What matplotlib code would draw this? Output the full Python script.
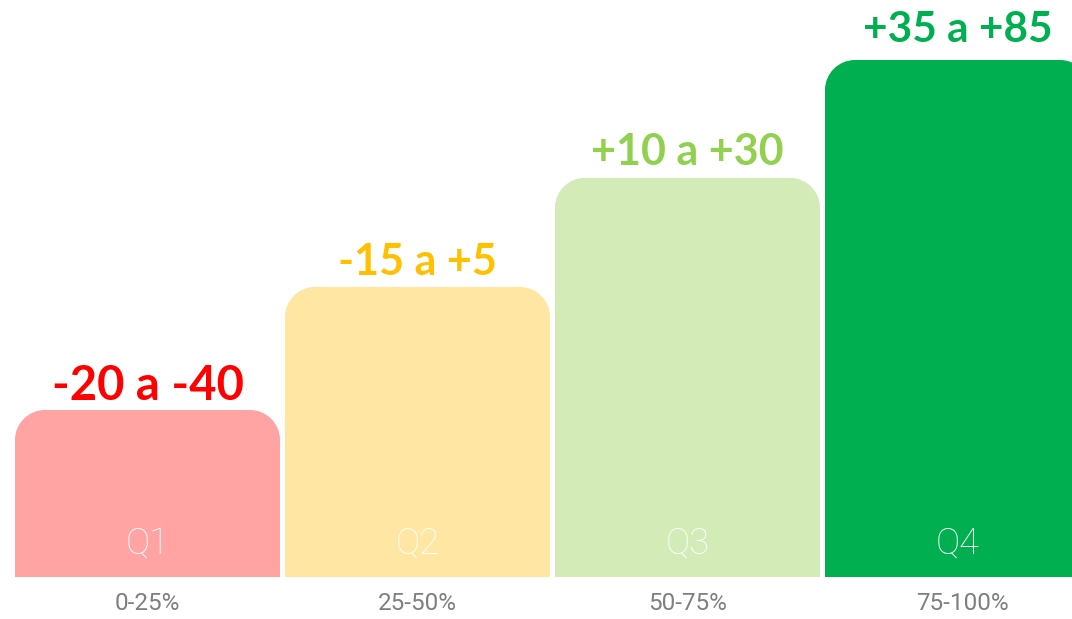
import matplotlib
matplotlib.use("Agg")
import matplotlib.pyplot as plt
from matplotlib.path import Path
from matplotlib.patches import PathPatch

# Data
quartiles = ["Q1", "Q2", "Q3", "Q4"]
ranges = ["0-25%", "25-50%", "50-75%", "75-100%"]
heights = [32.3, 56.1, 77.2, 100.0]
value_labels = ["-20 a -40", "-15 a +5", "+10 a +30", "+35 a +85"]
bar_colors = ["#FFA3A3", "#FFE6A3", "#D3EBB7", "#00B050"]
text_colors = ["#FF0000", "#FFC000", "#92D050", "#00B050"]

W, H, DPI = 1072, 619, 100
fig = plt.figure(figsize=(W / DPI, H / DPI), dpi=DPI)
ax = fig.add_axes([0, 0, 1, 1])

# axis limits chosen so bars land where they sit in the reference
px_x = 270.0   # pixels per x unit
px_y = 5.17    # pixels per y unit
ax.set_xlim(-147.5 / px_x, (W - 147.5) / px_x)
ax.set_ylim(-42 / px_y, (H - 42) / px_y)
ax.axis("off")

width = 265 / px_x
rx = 30 / px_x
ry = 30 / px_y
k = 0.5523

label_sizes = [34, 31, 31, 30.5]
label_gaps = [10, 12, 13, 18]   # px between bar top and label baseline


def rounded_top_bar(xc, h, color):
    l, r = xc - width / 2, xc + width / 2
    verts = [
        (l, 0), (l, h - ry),
        (l, h - ry + k * ry), (l + rx - k * rx, h), (l + rx, h),
        (r - rx, h),
        (r - rx + k * rx, h), (r, h - ry + k * ry), (r, h - ry),
        (r, 0), (l, 0),
    ]
    codes = [Path.MOVETO, Path.LINETO,
             Path.CURVE4, Path.CURVE4, Path.CURVE4,
             Path.LINETO,
             Path.CURVE4, Path.CURVE4, Path.CURVE4,
             Path.LINETO, Path.CLOSEPOLY]
    ax.add_patch(PathPatch(Path(verts, codes), facecolor=color, edgecolor="none"))


for i, (q, rng, h, lab, bc, tc) in enumerate(zip(quartiles, ranges, heights, value_labels, bar_colors, text_colors)):
    rounded_top_bar(i, h, bc)
    ax.text(i, h + label_gaps[i] / px_y, lab, ha="center", va="baseline", fontsize=label_sizes[i],
            fontweight="bold", color=tc, family=["Lato", "DejaVu Sans"])
    ax.text(i, 33 / px_y, q, ha="center", va="center", fontsize=26,
            fontweight="light", color="white", family=["Roboto", "DejaVu Sans"])
    ax.text(i + (0.02 if i == 3 else 0), -27 / px_y, rng, ha="center", va="center", fontsize=17.5,
            fontweight="normal", color="#7F7F7F", family=["Roboto", "DejaVu Sans"])

fig.savefig("out.png", dpi=DPI, facecolor="white")
